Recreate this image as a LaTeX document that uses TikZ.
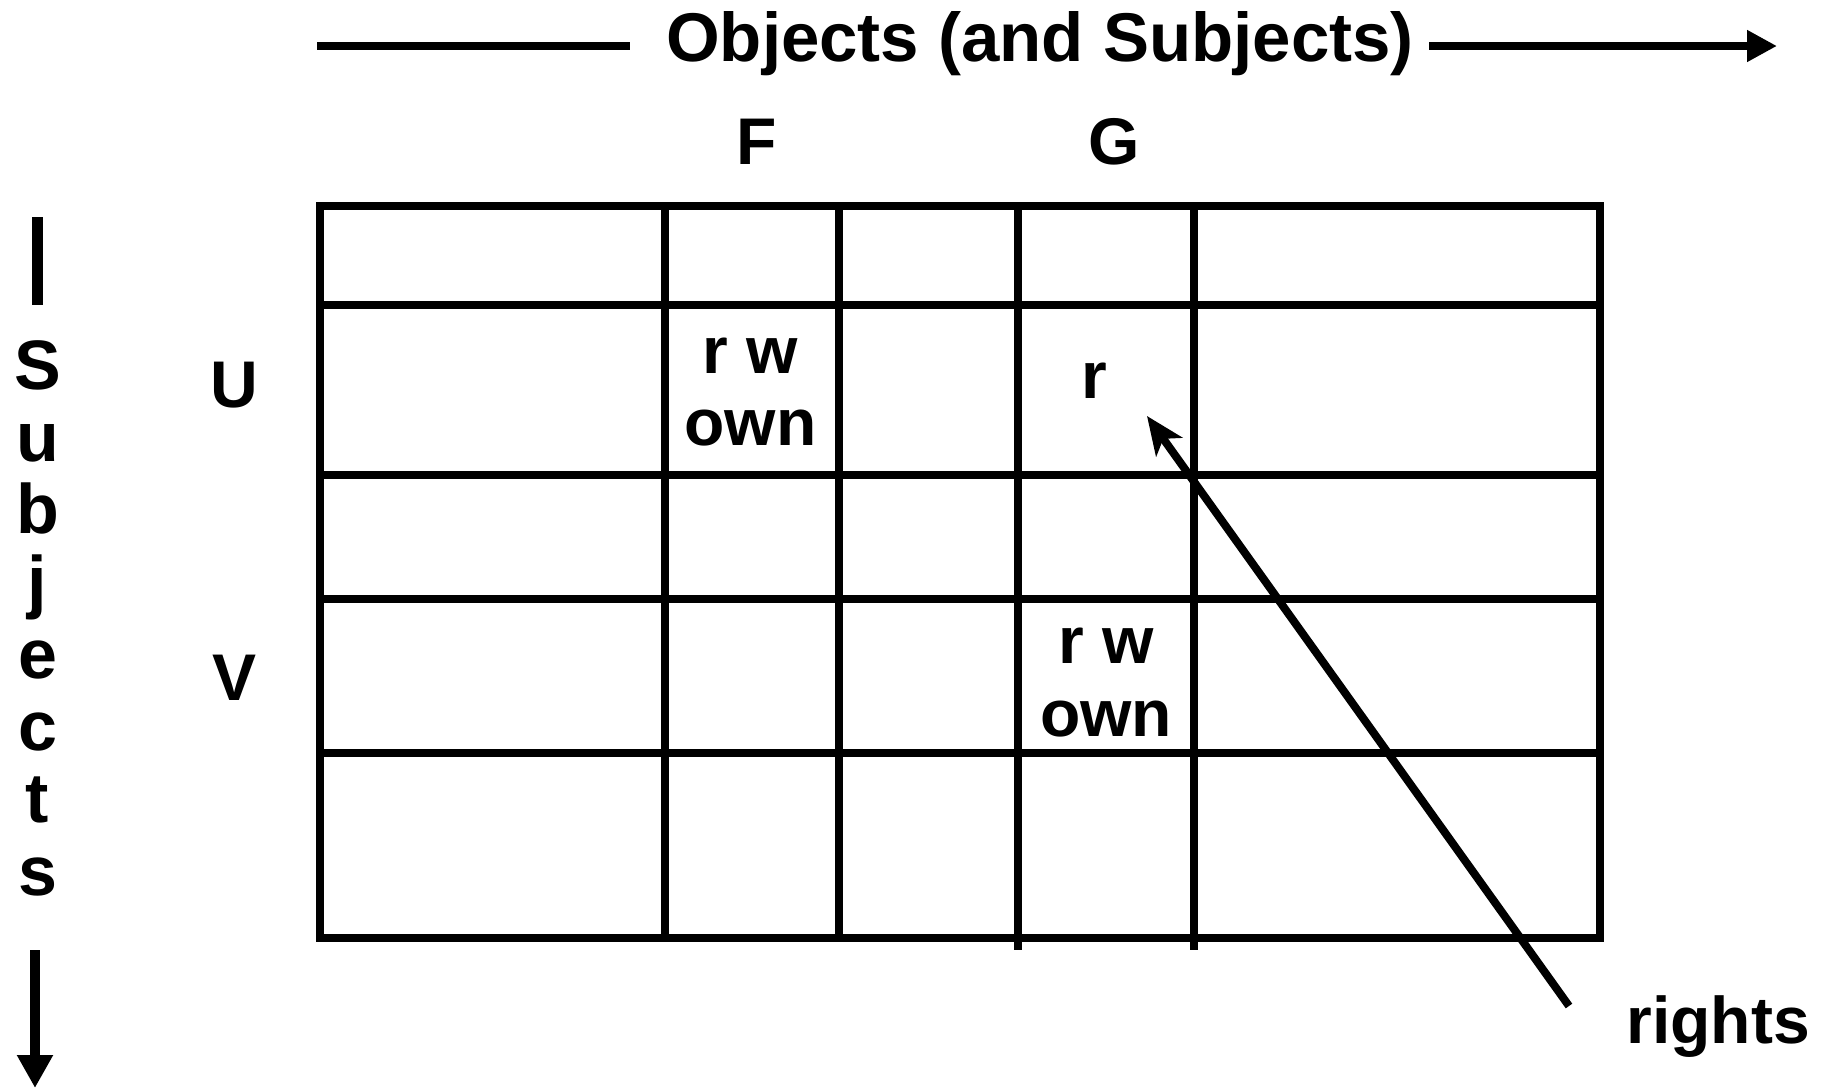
\documentclass[tikz,border=0pt]{standalone}
\usepackage{fontspec}
\setmainfont{Liberation Sans}
\usetikzlibrary{arrows.meta}
\begin{document}
\begin{tikzpicture}[x=1pt,y=-1pt,
  lbl/.style={font=\fontsize{66}{72}\selectfont\bfseries, anchor=base, inner sep=0pt},
  gridline/.style={line width=8pt},
  axisline/.style={line width=8.5pt}]
\useasboundingbox (0,0) rectangle (1839,1090);
\fill[white] (0,0) rectangle (1839,1090);
% grid
\draw[gridline] (320,206) rectangle (1600,938);
\foreach \x/\e in {665/942,838.5/942,1018/950,1194/950} \draw[gridline] (\x,206) -- (\x,\e);
\foreach \y in {305,475,599,753} \draw[gridline] (320,\y) -- (1600,\y);
% top axis
\node[lbl,font=\fontsize{69}{72}\selectfont\bfseries] (obj) at (1040,61) {Objects (and Subjects)};
\coordinate (tl) at (317,46);
\coordinate (tr) at (1777,46);
\draw[axisline] (tl) -- ([xshift=-36pt]obj.west |- tl);
\draw[axisline,-{Triangle[length=30pt,width=30pt]}] ([xshift=15pt]obj.east |- tr) -- (tr);
% column labels
\node[lbl] (F) at (756.5,164) {F};
\node[lbl] (G) at (1114,164) {G};
% row labels
\node[lbl] (U) at (234.6,407) {U};
\node[lbl] (V) at (234.6,700) {V};
% cell entries
\node[lbl] (fu1) at (750.6,373) {r w};
\node[lbl] (fu2) at (750.6,445.7) {own};
\node[lbl] (gu) at (1094,398.8) {r};
\node[lbl] (gv1) at (1106,663.8) {r w};
\node[lbl] (gv2) at (1106,736.5) {own};
% left axis
\coordinate (bartop) at (37.5,217);
\coordinate (barbot) at (37.5,305);
\draw[line width=11pt] (bartop) -- (barbot);
\foreach \l [count=\i] in {S,u,b,j,e,c,t,s}
  \node[lbl,font=\fontsize{70}{72}\selectfont\bfseries] (sub\i) at (37.5,{389+72.3*(\i-1)}) {\l};
\coordinate (dstart) at (35,950);
\coordinate (dend) at (35,1088);
\draw[line width=10pt,-{Triangle[length=33pt,width=34pt]}] (dstart) -- (dend);
% rights
\node[lbl] (rights) at (1718,1043.8) {rights};
\coordinate (rtail) at (1569,1006);
\coordinate (rhead) at (1147,416);
\draw[line width=8pt,-{Stealth[length=38pt,width=32pt,inset=10pt]}] (rtail) -- (rhead);
\end{tikzpicture}
\end{document}
